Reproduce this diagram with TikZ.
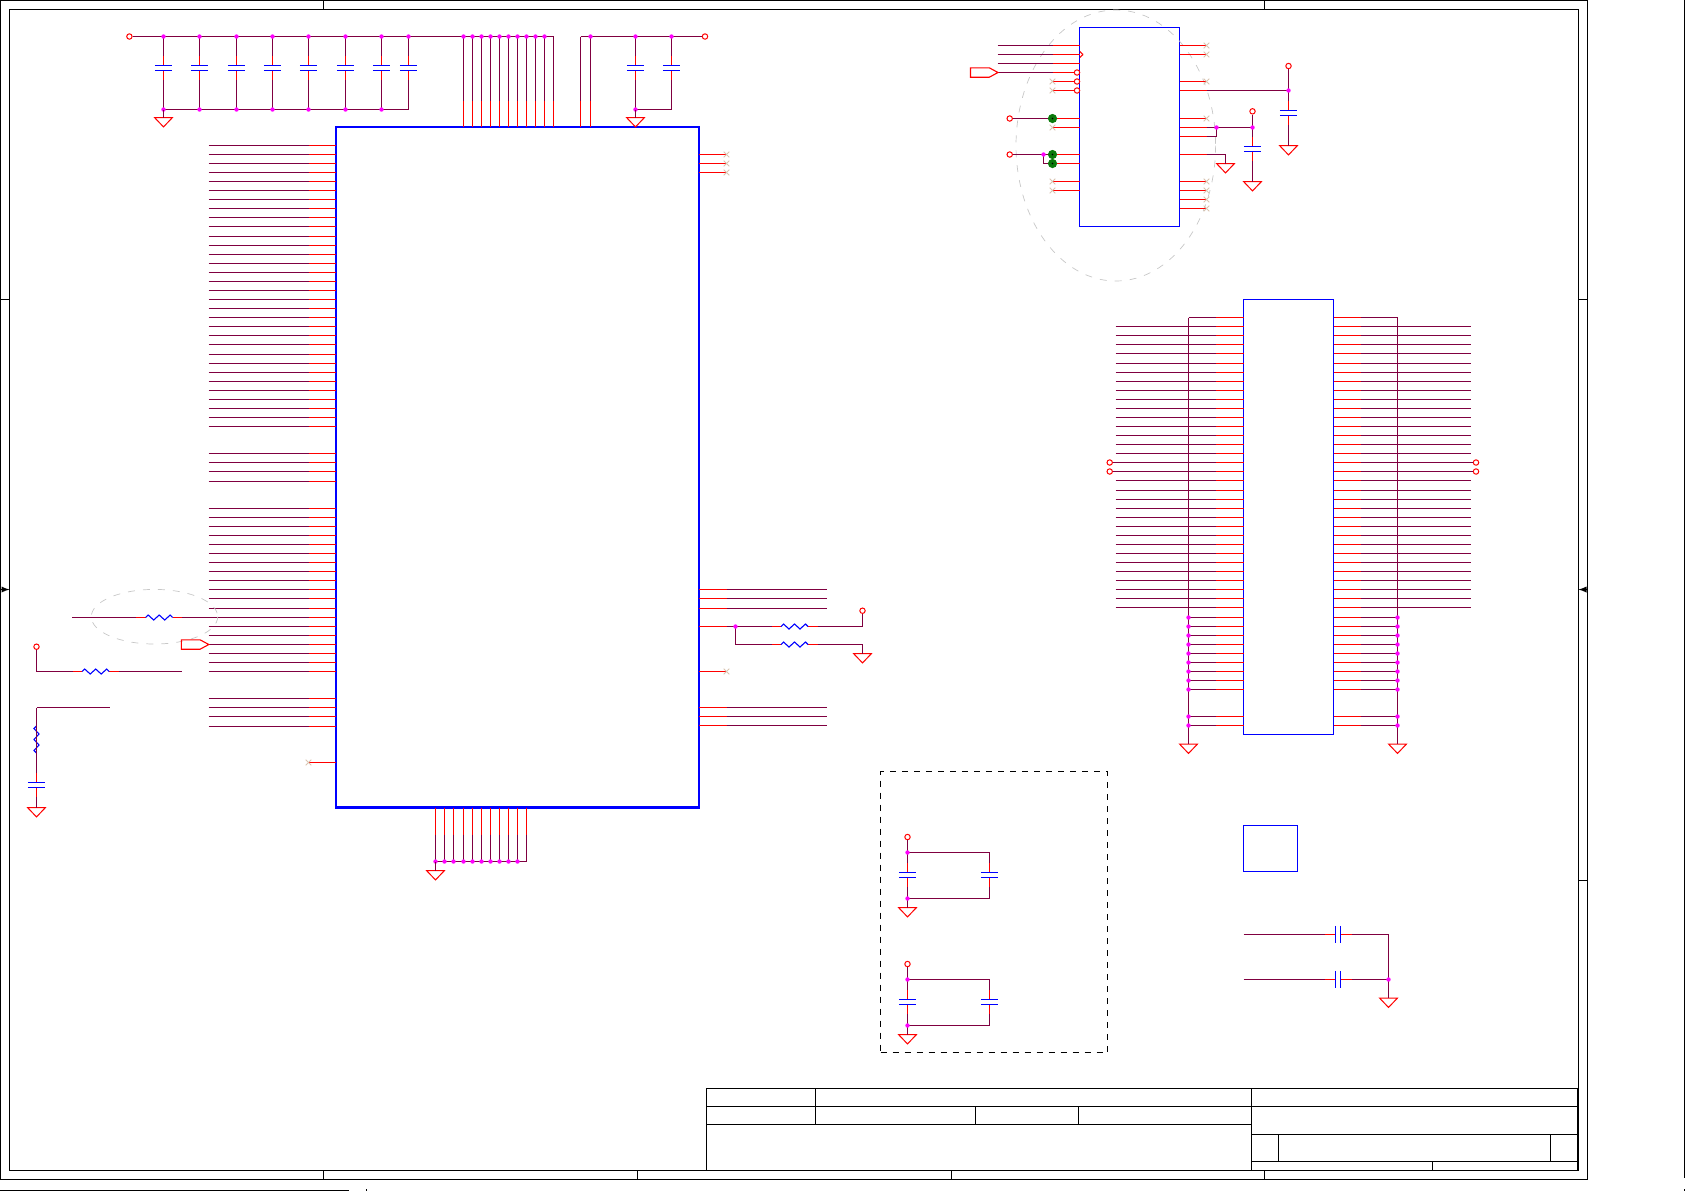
\documentclass[tikz,border=0pt]{standalone}
\usepackage{tikz}
\usetikzlibrary{arrows}
\definecolor{netcol}{HTML}{800040}
\definecolor{ncmark}{HTML}{D9C4B0}
\definecolor{padgreen}{HTML}{0B7A0B}
\definecolor{dotcol}{HTML}{FF00FF}
\tikzset{
        wire/.style={draw=netcol, line width=0.55pt},
        pinline/.style={draw=red, line width=0.55pt},
        frameline/.style={draw=black, line width=0.55pt},
        halo/.style={draw=black!22, line width=0.35pt, dash pattern=on 3.5pt off 4pt},
        chip/.style={draw=blue, line width=0.55pt, inner sep=0pt, outer sep=0pt, anchor=north west},
        dot/.style={circle, fill=dotcol, inner sep=0pt, minimum size=2.2pt},
        ring/.style={circle, draw=red, fill=white, line width=0.5pt, inner sep=0pt, minimum size=2.7pt},
        pad/.style={circle, fill=padgreen, inner sep=0pt, minimum size=4.6pt},
        padhole/.style={circle, fill=black, inner sep=0pt, minimum size=0.9pt},
        gnd/.pic={
                \coordinate (-a) at (0, 0);
                \draw[draw=red, line width=0.5pt] (-9, 0) -- (9, 0) -- (0, 9.4) -- cycle;
        },
        capv/.pic={
                \coordinate (-a) at (0, -12);
                \coordinate (-b) at (0, 12);
                \draw[pinline] (0, -12) -- (0, -2.5);
                \draw[pinline] (0, 2.5) -- (0, 12);
                \draw[draw=blue, line width=0.55pt] (-8.6, -2.5) -- (8.6, -2.5);
                \draw[draw=blue, line width=0.55pt] (-8.6, 2.5) -- (8.6, 2.5);
        },
        resh/.pic={
                \coordinate (-a) at (-23, 0);
                \coordinate (-b) at (23, 0);
                \draw[pinline] (-23, 0) -- (-13.5, 0);
                \draw[pinline] (13.5, 0) -- (23, 0);
                \draw[draw=blue, line width=0.55pt] (-13.5, 0) -- (-11, -2.5) -- (-5.5, 2.5) -- (0, -2.5) -- (5.5, 2.5) -- (11, -2.5) -- (13.5, 0);
        },
        nc/.pic={
                \draw[draw=ncmark, line width=0.5pt] (-2.8, -2.8) -- (2.8, 2.8);
                \draw[draw=ncmark, line width=0.5pt] (-2.8, 2.8) -- (2.8, -2.8);
        },
        port/.pic={
                \coordinate (-a) at (0, 0);
                \draw[pinline] (0, 0) -- (-8.7, -4.7) -- (-27.5, -4.7) -- (-27.5, 4.7) -- (-8.7, 4.7) -- cycle;
        }
}
\begin{document}
\begin{tikzpicture}[x=0.5pt, y=-0.5pt]
        \useasboundingbox (0, 0) rectangle (1685, 1191);

        \draw[frameline] (0.5, 0.5) rectangle (1587.5, 1179.5);
        \draw[frameline] (9.5, 9.5) rectangle (1578.5, 1170.5);
        \foreach \x in {323.5, 1264.5} {
                \draw[frameline] (\x, 0.5) to (\x, 9.5);
        }
        \foreach \x in {323.5, 637.5, 951.5, 1264.5} {
                \draw[frameline] (\x, 1170.5) to (\x, 1179.5);
        }
        \draw[frameline] (0.5, 299.5) to (9.5, 299.5);
        \draw[frameline] (1578.5, 299.5) to (1587.5, 299.5);
        \draw[frameline] (1578.5, 880.5) to (1587.5, 880.5);
        \draw[frameline, line width=0.4pt, -latex] (0.5, 589.5) to (9.5, 589.5);
        \draw[frameline, line width=0.4pt, -latex] (1587.5, 589.5) to (1578.5, 589.5);
        \draw[frameline] (0, 1190.5) to (348.5, 1190.5);
        \draw[frameline] (366.5, 1189) to (366.5, 1191);
        \draw[frameline] (1684.5, 0) to (1684.5, 1178);
        \draw[frameline] (1684.5, 1189) to (1684.5, 1191);

        \draw[frameline] (706.5, 1088.5) rectangle (1577.5, 1170.5);
        \draw[frameline] (706.5, 1106.5) to (1577.5, 1106.5);
        \draw[frameline] (706.5, 1124.5) to (1251.5, 1124.5);
        \draw[frameline] (815.5, 1088.5) to (815.5, 1124.5);
        \draw[frameline] (975.5, 1106.5) to (975.5, 1124.5);
        \draw[frameline] (1078.5, 1106.5) to (1078.5, 1124.5);
        \draw[frameline] (1251.5, 1088.5) to (1251.5, 1170.5);
        \draw[frameline] (1251.5, 1134.5) to (1577.5, 1134.5);
        \draw[frameline] (1251.5, 1161.5) to (1577.5, 1161.5);
        \draw[frameline] (1278.5, 1134.5) to (1278.5, 1161.5);
        \draw[frameline] (1550.5, 1134.5) to (1550.5, 1161.5);
        \draw[frameline] (1432.5, 1161.5) to (1432.5, 1170.5);

        \node[chip, line width=1.4pt, minimum width=181.5pt, minimum height=340.3pt] (U1) at (336, 127) {};
        \node[chip, minimum width=50pt, minimum height=99.5pt] (U2) at (1079.5, 27.5) {};
        \node[chip, minimum width=45pt, minimum height=217.5pt] (J1) at (1243.5, 299.5) {};
        \node[chip, minimum width=27pt, minimum height=23pt] (U3) at (1243.5, 825.5) {};
        \node[chip, draw=black, dashed, minimum width=113.5pt, minimum height=140.5pt] (ZONE) at (880.5, 771.5) {};

        \node[ring] (VA) at (129.4, 36.5) {};
        \node[ring] (VB) at (705, 36.5) {};
        \foreach \i in {0,...,10} {
                \coordinate (T\i) at ({floor(463.2 + 9.05*\i) + 0.5}, 36.5);
                \coordinate (Tm\i) at ({floor(463.2 + 9.05*\i) + 0.5}, 100.5);
                \draw[wire] (T\i) to (Tm\i);
                \draw[pinline] (Tm\i) to (Tm\i |- U1.north);
        }
        \draw[wire] (VA) to (T10);
        \foreach \i in {0,...,9} {
                \node[dot] (dT\i) at (T\i) {};
        }
        \foreach \x [count=\n] in {163.5, 199.5, 236.5, 272.5, 308.5, 345.5, 381.5, 408.5} {
                \coordinate (A\n) at (\x, 36.5);
                \coordinate (B\n) at (\x, 109.5);
                \pic (CA\n) at (\x, 68) {capv};
                \draw[wire] (A\n) to (CA\n-a);
                \draw[wire] (CA\n-b) to (B\n);
                \node[dot] (dA\n) at (A\n) {};
        }
        \draw[wire] (B1) to (B8);
        \foreach \n in {1,...,7} {
                \node[dot] (dB\n) at (B\n) {};
        }
        \pic (G1) at (163.5, 117.5) {gnd};
        \draw[wire] (B1) to (G1-a);

        \coordinate (T11) at (580.5, 36.5);
        \coordinate (T12) at (590.5, 36.5);
        \coordinate (Tm11) at (580.5, 100.5);
        \coordinate (Tm12) at (590.5, 100.5);
        \draw[wire] (T11) to (VB);
        \draw[wire] (T11) to (Tm11);
        \draw[wire] (T12) to (Tm12);
        \draw[pinline] (Tm11) to (Tm11 |- U1.north);
        \draw[pinline] (Tm12) to (Tm12 |- U1.north);
        \node[dot] (dT12) at (T12) {};
        \foreach \x [count=\n] in {635.5, 671.5} {
                \coordinate (E\n) at (\x, 36.5);
                \coordinate (F\n) at (\x, 109.5);
                \pic (CB\n) at (\x, 68) {capv};
                \draw[wire] (E\n) to (CB\n-a);
                \draw[wire] (CB\n-b) to (F\n);
                \node[dot] (dE\n) at (E\n) {};
        }
        \draw[wire] (F1) to (F2);
        \node[dot] (dF1) at (F1) {};
        \pic (G2) at (635.5, 117.5) {gnd};
        \draw[wire] (F1) to (G2-a);

        \foreach \i in {0,1,...,31,34,35,36,37,40,41,...,58,61,62,63,64} {
                \coordinate (L\i) at (208.5, {floor(145.33 + 9.073*\i) + 0.5});
                \coordinate (Lm\i) at (308.5, {floor(145.33 + 9.073*\i) + 0.5});
                \draw[wire] (L\i) to (Lm\i);
                \draw[pinline] (Lm\i) to (Lm\i -| U1.west);
        }
        \coordinate (L68) at (308.5, 762.5);
        \draw[pinline] (L68) to (L68 -| U1.west);
        \pic at (L68) {nc};

        \foreach \y [count=\n] in {154.5, 163.5, 172.5} {
                \coordinate (N\n) at (726.5, \y);
                \draw[pinline] (N\n -| U1.east) to (N\n);
                \pic at (N\n) {nc};
        }
        \coordinate (N4) at (726.5, 671.5);
        \draw[pinline] (N4 -| U1.east) to (N4);
        \pic at (N4) {nc};
        \foreach \y [count=\n] in {589.5, 598.5, 608.5, 707.5, 716.5, 725.5} {
                \coordinate (Rm\n) at (726.5, \y);
                \coordinate (Re\n) at (826.5, \y);
                \draw[pinline] (Rm\n -| U1.east) to (Rm\n);
                \draw[wire] (Rm\n) to (Re\n);
        }
        \coordinate (Rm7) at (726.5, 626.5);
        \draw[pinline] (Rm7 -| U1.east) to (Rm7);
        \node[ring] (VC) at (862.5, 610.7) {};
        \pic (R3) at (794.5, 626.5) {resh};
        \pic (R4) at (794.5, 644.5) {resh};
        \coordinate (X1) at (735.5, 626.5);
        \coordinate (X2) at (735.5, 644.5);
        \coordinate (X3) at (862.5, 626.5);
        \coordinate (X4) at (862.5, 644.5);
        \draw[wire] (Rm7) to (R3-a);
        \draw[wire] (X1) to (X2);
        \draw[wire] (X2) to (R4-a);
        \draw[wire] (R3-b) to (X3);
        \draw[wire] (X3) to (VC);
        \draw[wire] (R4-b) to (X4);
        \node[dot] (dX1) at (X1) {};
        \pic (G3) at (862.5, 653.5) {gnd};
        \draw[wire] (X4) to (G3-a);

        \foreach \x [count=\i from 0] in {435.5, 444.5, 453.5, 463.5, 472.5, 481.5, 490.5, 499.5, 508.5, 517.5, 526.5} {
                \coordinate (Bt\i) at (\x, 834.5);
                \coordinate (Bb\i) at (\x, 861.5);
                \draw[pinline] (Bt\i |- U1.south) to (Bt\i);
                \draw[wire] (Bt\i) to (Bb\i);
        }
        \draw[wire] (Bb0) to (Bb10);
        \foreach \i in {0,...,9} {
                \node[dot] (dB\i b) at (Bb\i) {};
        }
        \pic (G4) at (435.5, 870.5) {gnd};
        \draw[wire] (Bb0) to (G4-a);

        \draw[halo] (154.5, 616.7) ellipse (63.2 and 27.3);
        \coordinate (W1) at (72, 617.5);
        \pic (R1) at (159.2, 617.5) {resh};
        \draw[wire] (W1) to (R1-a);
        \draw[wire] (R1-b) to (L52);
        \pic (P1) at (208.8, 644.5) {port};
        \node[ring] (VD) at (36.5, 646.7) {};
        \coordinate (W2) at (36.5, 671.5);
        \coordinate (W3) at (182, 671.5);
        \pic (R2) at (95.7, 671.5) {resh};
        \draw[wire] (VD) to (W2);
        \draw[wire] (W2) to (R2-a);
        \draw[wire] (R2-b) to (W3);
        \coordinate (W4) at (109.7, 707.5);
        \coordinate (W5) at (36.5, 707.5);
        \pic[rotate=90] (R5) at (36.5, 739.5) {resh};
        \pic (C1) at (36.5, 785) {capv};
        \pic (G5) at (36.5, 807.5) {gnd};
        \draw[wire] (W4) to (W5);
        \draw[wire] (W5) to (R5-a);
        \draw[wire] (R5-b) to (C1-a);
        \draw[wire] (C1-b) to (G5-a);

        \draw[halo] (1115.8, 145.5) ellipse (99.8 and 135.5);
        \foreach \y [count=\n] in {45.5, 54.5, 63.5, 72.5} {
                \coordinate (UL\n) at (997.5, \y);
                \coordinate (UM\n) at (1052.5, \y);
                \draw[wire] (UL\n) to (UM\n);
        }
        \draw[pinline] (UM1) to (UM1 -| U2.west);
        \draw[pinline] (UM2) to (UM2 -| U2.west);
        \draw[pinline] (UM3) to (UM3 -| U2.west);
        \draw[pinline] (1079.8, 51.5) to (1083, 54.5);
        \draw[pinline] (1083, 54.5) to (1079.8, 57.5);
        \pic (P2) at (998, 72.5) {port};
        \node[ring] (IN1) at (1077, 72.5) {};
        \node[ring] (IN2) at (1077, 81.5) {};
        \node[ring] (IN3) at (1077, 90.5) {};
        \coordinate (UM5) at (1052.5, 81.5);
        \coordinate (UM6) at (1052.5, 90.5);
        \draw[pinline] (UM4) to (IN1);
        \draw[pinline] (UM5) to (IN2);
        \draw[pinline] (UM6) to (IN3);
        \pic at (UM5) {nc};
        \pic at (UM6) {nc};
        \foreach \y [count=\n] in {127.5, 181.5, 190.5} {
                \coordinate (UN\n) at (1052.5, \y);
                \draw[pinline] (UN\n) to (UN\n -| U2.west);
                \pic at (UN\n) {nc};
        }
        \node[ring] (VE) at (1009.7, 118.5) {};
        \node[ring] (VF) at (1009.7, 154.5) {};
        \coordinate (S1) at (1052.5, 118.5);
        \coordinate (S2) at (1052.5, 154.5);
        \coordinate (S3) at (1052.5, 163.5);
        \coordinate (S4) at (1043.5, 154.5);
        \coordinate (S5) at (1043.5, 163.5);
        \draw[wire] (VE) to (S1);
        \draw[wire] (VF) to (S2);
        \draw[wire] (S4) to (S5);
        \draw[wire] (S5) to (S3);
        \draw[pinline] (S1) to (S1 -| U2.west);
        \draw[pinline] (S2) to (S2 -| U2.west);
        \draw[pinline] (S3) to (S3 -| U2.west);
        \node[dot] (dS4) at (S4) {};
        \node[pad] (TP1) at (S1) {};
        \node[pad] (TP2) at (S2) {};
        \node[pad] (TP3) at (S3) {};
        \node[padhole] (TH1) at (S1) {};
        \node[padhole] (TH2) at (S2) {};
        \node[padhole] (TH3) at (S3) {};

        \foreach \y [count=\n] in {45.5, 54.5, 81.5, 118.5, 181.5, 190.5, 199.5, 208.5} {
                \coordinate (UR\n) at (1206.5, \y);
                \draw[pinline] (UR\n -| U2.east) to (UR\n);
                \pic at (UR\n) {nc};
        }
        \foreach \y [count=\n] in {90.5, 127.5, 136.5, 154.5} {
                \coordinate (US\n) at (1206.5, \y);
                \draw[pinline] (US\n -| U2.east) to (US\n);
        }
        \node[ring] (VG) at (1288.5, 66) {};
        \coordinate (K1) at (1288.5, 90.5);
        \pic (C2) at (1288.5, 113) {capv};
        \pic (G6) at (1288.5, 145.5) {gnd};
        \draw[wire] (US1) to (K1);
        \draw[wire] (VG) to (K1);
        \draw[wire] (K1) to (C2-a);
        \draw[wire] (C2-b) to (G6-a);
        \node[dot] (dK1) at (K1) {};
        \node[ring] (VH) at (1252.5, 111.3) {};
        \coordinate (K2) at (1252.5, 127.5);
        \coordinate (K3) at (1216.5, 127.5);
        \coordinate (K4) at (1216.5, 136.5);
        \pic (C3) at (1252.5, 149) {capv};
        \pic (G7) at (1252.5, 181.5) {gnd};
        \draw[wire] (US2) to (K2);
        \draw[wire] (VH) to (K2);
        \draw[wire] (K2) to (C3-a);
        \draw[wire] (C3-b) to (G7-a);
        \draw[wire] (US3) to (K4);
        \draw[wire] (K4) to (K3);
        \node[dot] (dK2) at (K2) {};
        \node[dot] (dK3) at (K3) {};
        \coordinate (K5) at (1225.5, 154.5);
        \pic (G8) at (1225.5, 163.5) {gnd};
        \draw[wire] (US4) to (K5);
        \draw[wire] (K5) to (G8-a);

        \foreach \i in {0,...,41,44,45} {
                \coordinate (JL\i) at (1215.5, {floor(317.7 + 9.07*\i) + 0.5});
                \coordinate (JR\i) at (1360.5, {floor(317.7 + 9.07*\i) + 0.5});
                \draw[pinline] (JL\i) to (JL\i -| J1.west);
                \draw[pinline] (JR\i -| J1.east) to (JR\i);
        }
        \foreach \i in {1,2,...,15,18,19,...,32} {
                \coordinate (JA\i) at (1115.5, {floor(317.7 + 9.07*\i) + 0.5});
                \coordinate (JB\i) at (1470.5, {floor(317.7 + 9.07*\i) + 0.5});
                \draw[wire] (JA\i) to (JL\i);
                \draw[wire] (JR\i) to (JB\i);
        }
        \foreach \i in {16,17} {
                \node[ring] (JA\i) at (1109.7, {floor(317.7 + 9.07*\i) + 0.5}) {};
                \node[ring] (JB\i) at (1476, {floor(317.7 + 9.07*\i) + 0.5}) {};
                \draw[wire] (JA\i) to (JL\i);
                \draw[wire] (JR\i) to (JB\i);
        }
        \coordinate (JV1) at (1188.5, 317.5);
        \coordinate (JV2) at (1397.5, 317.5);
        \pic (G9) at (1188.5, 744) {gnd};
        \pic (G10) at (1397.5, 744) {gnd};
        \draw[wire] (JV1) to (JL0);
        \draw[wire] (JR0) to (JV2);
        \draw[wire] (JV1) to (G9-a);
        \draw[wire] (JV2) to (G10-a);
        \foreach \i in {33,...,41,44,45} {
                \coordinate (JC\i) at (1188.5, {floor(317.7 + 9.07*\i) + 0.5});
                \coordinate (JD\i) at (1397.5, {floor(317.7 + 9.07*\i) + 0.5});
                \draw[wire] (JC\i) to (JL\i);
                \draw[wire] (JR\i) to (JD\i);
                \node[dot] (dJC\i) at (JC\i) {};
                \node[dot] (dJD\i) at (JD\i) {};
        }

        \foreach \y/\n in {837/1, 964/2} {
                \node[ring] (VZ\n) at (907.5, \y) {};
                \coordinate (Za\n) at (907.5, {\y + 15.5});
                \coordinate (Zb\n) at (907.5, {\y + 61.5});
                \coordinate (Zc\n) at (989.5, {\y + 15.5});
                \coordinate (Zd\n) at (989.5, {\y + 61.5});
                \pic (CZ\n) at (907.5, {\y + 38}) {capv};
                \pic (CY\n) at (989.5, {\y + 38}) {capv};
                \pic (GZ\n) at (907.5, {\y + 70.5}) {gnd};
                \draw[wire] (VZ\n) to (Za\n);
                \draw[wire] (Za\n) to (CZ\n-a);
                \draw[wire] (CZ\n-b) to (Zb\n);
                \draw[wire] (Zb\n) to (GZ\n-a);
                \draw[wire] (Za\n) to (Zc\n);
                \draw[wire] (Zc\n) to (CY\n-a);
                \draw[wire] (CY\n-b) to (Zd\n);
                \draw[wire] (Zd\n) to (Zb\n);
                \node[dot] (dZa\n) at (Za\n) {};
                \node[dot] (dZb\n) at (Zb\n) {};
        }

        \foreach \y/\n in {934.5/1, 979.5/2} {
                \coordinate (H\n) at (1243.5, \y);
                \coordinate (Ha\n) at (1324.5, \y);
                \coordinate (Hb\n) at (1352, \y);
                \coordinate (Hc\n) at (1388.5, \y);
                \draw[wire] (H\n) to (Ha\n);
                \draw[pinline] (Ha\n) to (1335.5, \y);
                \draw[pinline] (1340.5, \y) to (Hb\n);
                \draw[wire] (Hb\n) to (Hc\n);
                \draw[draw=blue, line width=0.55pt] (1335.5, {\y - 8.7}) to (1335.5, {\y + 8.7});
                \draw[draw=blue, line width=0.55pt] (1340.5, {\y - 8.7}) to (1340.5, {\y + 8.7});
        }
        \pic (G11) at (1388.5, 998) {gnd};
        \draw[wire] (Hc1) to (G11-a);
        \node[dot] (dHc2) at (Hc2) {};
\end{tikzpicture}
\end{document}
